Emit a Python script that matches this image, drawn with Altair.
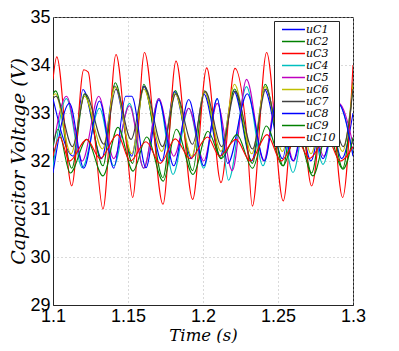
import altair as alt
import pandas as pd

series = ["uC1", "uC2", "uC3", "uC4", "uC5", "uC6", "uC7", "uC8", "uC9", "uC10"]
colors = ["#0000ff", "#008000", "#ff0000", "#00bfbf", "#bf00bf",
          "#bfbf00", "#404040", "#0000ff", "#008000", "#ff0000"]

x_ticks = [1.1, 1.15, 1.2, 1.25, 1.3]
y_ticks = [29, 30, 31, 32, 33, 34, 35]

t_c1 = [1.1000, 1.1135, 1.1200, 1.1325, 1.1412, 1.1525, 1.1604, 1.1725, 1.1810, 1.1925, 1.2005,
        1.2115, 1.2205, 1.2325, 1.2410, 1.2530, 1.2610, 1.2720, 1.2815, 1.2925, 1.3000]
v_c1 = [33.30, 32.10, 33.49, 32.05, 33.56, 32.10, 33.56, 32.00, 33.45, 32.05, 33.40,
        32.10, 33.46, 32.00, 33.49, 32.05, 33.45, 32.00, 33.40, 32.05, 33.00]

t_c2 = [1.1000, 1.1018, 1.1125, 1.1210, 1.1333, 1.1415, 1.1531, 1.1605, 1.1733, 1.1815, 1.1931,
        1.2010, 1.2120, 1.2210, 1.2329, 1.2415, 1.2535, 1.2615, 1.2724, 1.2820, 1.2931, 1.3000]
v_c2 = [33.40, 33.46, 31.85, 33.40, 31.90, 33.63, 31.95, 33.60, 31.65, 33.47, 31.80,
        33.46, 32.05, 33.50, 31.95, 33.60, 31.90, 33.55, 31.75, 33.50, 31.85, 33.65]

t_c3 = [1.1000, 1.1025, 1.1125, 1.1205, 1.1235, 1.1280, 1.1333, 1.1420, 1.1490, 1.1531, 1.1610,
        1.1733, 1.1820, 1.1931, 1.2025, 1.2120, 1.2213, 1.2290, 1.2329, 1.2424, 1.2535, 1.2625,
        1.2724, 1.2830, 1.2931, 1.3000]
v_c3 = [33.70, 34.17, 31.48, 33.90, 33.85, 32.45, 31.00, 34.22, 32.35, 31.24, 34.26,
        31.10, 34.08, 31.20, 33.94, 31.55, 33.93, 32.60, 31.06, 34.26, 31.17, 34.00,
        31.48, 34.00, 31.24, 34.00]

t_c4 = [1.1000, 1.1090, 1.1195, 1.1310, 1.1405, 1.1510, 1.1605, 1.1705, 1.1800, 1.1905, 1.2005,
        1.2095, 1.2170, 1.2290, 1.2400, 1.2495, 1.2600, 1.2700, 1.2800, 1.2900, 1.3000]
v_c4 = [31.86, 33.30, 31.86, 33.10, 31.90, 33.20, 31.85, 33.30, 31.72, 33.10, 31.85,
        33.30, 31.60, 33.55, 31.90, 33.30, 31.76, 33.20, 31.93, 33.20, 32.15]

t_c5 = [1.1000, 1.1090, 1.1195, 1.1305, 1.1405, 1.1510, 1.1605, 1.1705, 1.1805, 1.1905, 1.2005,
        1.2095, 1.2195, 1.2290, 1.2405, 1.2495, 1.2605, 1.2700, 1.2805, 1.2905, 1.3000]
v_c5 = [32.28, 33.35, 32.00, 33.35, 32.05, 33.15, 31.85, 33.30, 32.10, 33.10, 32.00,
        33.20, 31.80, 33.70, 32.00, 33.40, 32.00, 33.30, 32.10, 33.20, 32.35]

t_c6 = [1.1000, 1.1015, 1.1120, 1.1210, 1.1330, 1.1415, 1.1525, 1.1605, 1.1725, 1.1815, 1.1925,
        1.2010, 1.2120, 1.2210, 1.2325, 1.2415, 1.2530, 1.2615, 1.2720, 1.2820, 1.2930, 1.3000]
v_c6 = [33.35, 33.40, 32.15, 33.35, 32.25, 33.55, 32.15, 33.50, 32.20, 33.40, 32.10,
        33.45, 32.20, 33.60, 32.15, 33.55, 32.20, 33.50, 32.15, 33.40, 32.20, 33.60]

t_c7 = [1.1000, 1.1020, 1.1130, 1.1215, 1.1340, 1.1420, 1.1520, 1.1610, 1.1730, 1.1820, 1.1930,
        1.2015, 1.2125, 1.2215, 1.2330, 1.2420, 1.2525, 1.2620, 1.2715, 1.2825, 1.2935, 1.3000]
v_c7 = [33.30, 33.35, 32.30, 33.40, 32.35, 33.50, 32.45, 33.55, 32.30, 33.40, 32.35,
        33.45, 32.30, 33.45, 32.25, 33.50, 32.30, 33.45, 32.30, 33.45, 32.30, 33.50]

t_c8 = [1.1000, 1.1110, 1.1205, 1.1310, 1.1405, 1.1485, 1.1525, 1.1620, 1.1705, 1.1805, 1.1905,
        1.2005, 1.2095, 1.2165, 1.2295, 1.2410, 1.2495, 1.2600, 1.2700, 1.2800, 1.2900, 1.3000]
v_c8 = [31.75, 33.20, 31.85, 33.25, 31.85, 33.35, 33.35, 31.86, 33.27, 31.90, 33.28,
        31.90, 33.30, 31.95, 33.40, 32.00, 33.30, 32.00, 33.30, 32.05, 33.20, 32.10]

t_c9 = [1.1000, 1.1033, 1.1115, 1.1225, 1.1333, 1.1433, 1.1533, 1.1625, 1.1735, 1.1822, 1.1933,
        1.2033, 1.2122, 1.2225, 1.2330, 1.2422, 1.2533, 1.2625, 1.2733, 1.2830, 1.2933, 1.3000]
v_c9 = [32.30, 32.66, 31.75, 32.45, 31.69, 32.70, 31.79, 32.50, 31.58, 32.66, 31.72,
        32.62, 32.05, 32.55, 31.85, 32.73, 31.90, 32.60, 31.69, 32.60, 31.83, 32.49]

t_c10 = [1.1000, 1.1045, 1.1110, 1.1225, 1.1315, 1.1430, 1.1515, 1.1620, 1.1715, 1.1815, 1.1915,
         1.2030, 1.2110, 1.2220, 1.2315, 1.2427, 1.2520, 1.2625, 1.2710, 1.2825, 1.2915, 1.3000]
v_c10 = [32.10, 32.50, 32.00, 32.45, 32.05, 32.55, 32.00, 32.40, 31.95, 32.46, 32.05,
         32.50, 32.10, 32.45, 32.00, 32.55, 32.00, 32.45, 32.05, 32.50, 32.00, 32.30]

all_t = [t_c1, t_c2, t_c3, t_c4, t_c5, t_c6, t_c7, t_c8, t_c9, t_c10]
all_v = [v_c1, v_c2, v_c3, v_c4, v_c5, v_c6, v_c7, v_c8, v_c9, v_c10]

rows = []
for k, (name, ts, vs) in enumerate(zip(series, all_t, all_v)):
    for t, v in zip(ts, vs):
        rows.append({"series": name, "t": t, "v": v, "k": k})
df = pd.DataFrame(rows)

axis_common = dict(
    labelFont="Liberation Sans", labelFontSize=18, labelColor="black",
    titleFont="DejaVu Serif", titleFontStyle="italic", titleFontWeight="normal",
    titleColor="black",
    grid=True, gridDash=[1, 3], gridColor="#b4b4b4", gridWidth=1,
    domainColor="#262626", ticks=True, tickSize=0,
    labelOverlap=False, labelBound=False,
)

chart = alt.Chart(df).mark_line(interpolate="monotone", strokeWidth=1.1, clip=True).encode(
    x=alt.X("t:Q",
            scale=alt.Scale(domain=[1.1, 1.3], nice=False, zero=False),
            axis=alt.Axis(values=x_ticks, format=".2~f", title="Time (s)",
                          labelPadding=16, labelBaseline="alphabetic", labelFlush=False,
                          titleX=150, titleY=35, titleBaseline="alphabetic",
                          titleFontSize=16.5,
                          **axis_common)),
    y=alt.Y("v:Q",
            scale=alt.Scale(domain=[29, 35], nice=False, zero=False),
            axis=alt.Axis(values=y_ticks, title="Capacitor Voltage (V)",
                          labelPadding=3, titleAngle=270, titleX=-29, titleY=144,
                          titleBaseline="alphabetic", titleAlign="center",
                          titleFontSize=19,
                          **axis_common)),
    color=alt.Color("series:N",
                    scale=alt.Scale(domain=series, range=colors),
                    legend=alt.Legend(title=None, orient="none", legendX=221, legendY=4,
                                      symbolType="M-1,0H4.1", symbolSize=81,
                                      symbolStrokeWidth=1.5, symbolOffset=4,
                                      labelFont="DejaVu Serif", labelFontStyle="italic",
                                      labelFontSize=11, labelColor="black",
                                      labelOffset=14, rowPadding=0, padding=3,
                                      strokeColor="#262626", fillColor="white",
                                      cornerRadius=0)),
    detail="k:O",
).properties(
    width=300, height=288,
    autosize=alt.AutoSizeParams(type="none"),
    padding={"left": 45, "top": 9, "right": 38, "bottom": 38},
).configure_view(stroke="#262626", strokeWidth=1)

chart.save("out.html", embed_options={"renderer": "svg", "actions": False})
